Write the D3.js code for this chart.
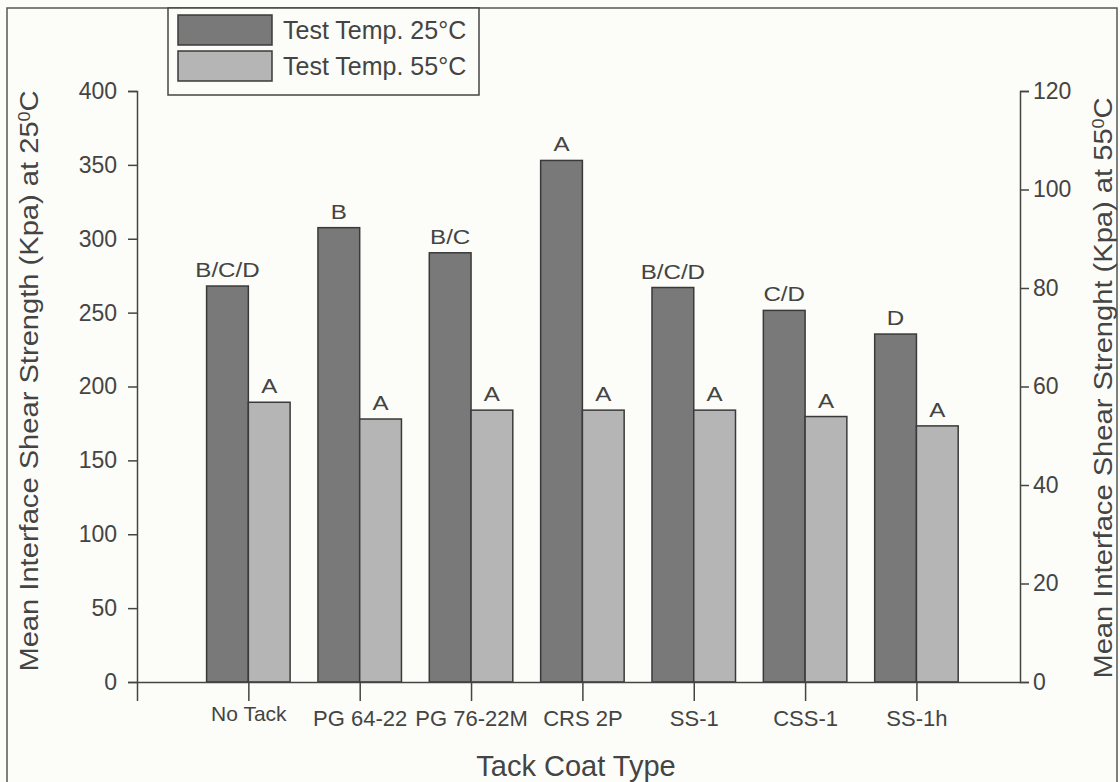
<!DOCTYPE html>
<html>
<head>
<meta charset="utf-8">
<script src="https://cdn.jsdelivr.net/npm/d3@7"></script>
<style>
  body { margin: 0; background: #fcfcf8; }
  text { font-family: Arial, "Liberation Sans", sans-serif; fill: #444; }
</style>
</head>
<body>
<div id="chart"></div>
<script>
// tack coat shear strength chart
const categories = ["No Tack", "PG 64-22", "PG 76-22M", "CRS 2P", "SS-1", "CSS-1", "SS-1h"];
const shear25 = [268, 307.5, 290.5, 353, 267, 251.5, 235.5];
const shear55 = [56.8, 53.4, 55.2, 55.2, 55.2, 53.9, 52.0];
const groups25 = ["B/C/D", "B", "B/C", "A", "B/C/D", "C/D", "D"];
const groups55 = ["A", "A", "A", "A", "A", "A", "A"];
const leftTicks = [0, 50, 100, 150, 200, 250, 300, 350, 400];
const rightTicks = [0, 20, 40, 60, 80, 100, 120];
const seriesNames = ["Test Temp. 25°C", "Test Temp. 55°C"];

const W = 1120, H = 782;
const plot = { left: 137, right: 1020, top: 91, bottom: 682 };
const dark = "#797979", light = "#b5b5b5", ink = "#444";

const svg = d3.select("#chart").append("svg")
  .attr("width", W)
  .attr("height", H);

// frame around the figure
svg.append("rect")
  .attr("x", 7).attr("y", 8)
  .attr("width", 1110).attr("height", 790)
  .attr("fill", "none")
  .attr("stroke", "#555")
  .attr("stroke-width", 1.5);

const x = d3.scaleLinear().domain([0, 7.93]).range([plot.left, plot.right]);
const yL = d3.scaleLinear().domain([0, 400]).range([plot.bottom, plot.top]);
const yR = d3.scaleLinear().domain([0, 120]).range([plot.bottom, plot.top]);
const bw = x(0.375) - x(0);

const rows = categories.map((c, i) => ({
  cat: c, pos: i + 1,
  v25: shear25[i], v55: shear55[i],
  g25: groups25[i], g55: groups55[i]
}));

// bars, 25C on left axis
svg.selectAll(".b25")
  .data(rows)
  .enter().append("rect")
  .attr("class", "b25")
  .attr("x", d => x(d.pos) - bw)
  .attr("y", d => yL(d.v25))
  .attr("width", bw)
  .attr("height", d => yL(0) - yL(d.v25))
  .attr("fill", dark)
  .attr("stroke", "#3a3a3a")
  .attr("stroke-width", 1.5);

// bars, 55C on right axis
svg.selectAll(".b55")
  .data(rows)
  .enter().append("rect")
  .attr("class", "b55")
  .attr("x", d => x(d.pos))
  .attr("y", d => yR(d.v55))
  .attr("width", bw)
  .attr("height", d => yR(0) - yR(d.v55))
  .attr("fill", light)
  .attr("stroke", "#3a3a3a")
  .attr("stroke-width", 1.5);

// group letters (scan is a bit wide, so stretch them)
svg.selectAll(".l25")
  .data(rows)
  .enter().append("text")
  .attr("transform", d => `translate(${x(d.pos) - bw / 2},${yL(d.v25) - 9}) scale(1.15,1)`)
  .attr("text-anchor", "middle")
  .style("font-size", "21px")
  .text(d => d.g25);

svg.selectAll(".l55")
  .data(rows)
  .enter().append("text")
  .attr("transform", d => `translate(${x(d.pos) + bw / 2},${yR(d.v55) - 9}) scale(1.15,1)`)
  .attr("text-anchor", "middle")
  .style("font-size", "21px")
  .text(d => d.g55);

// axes
const xAxis = svg.append("g")
  .attr("transform", `translate(0,${plot.bottom})`)
  .call(d3.axisBottom(x)
    .tickValues([0, 1, 2, 3, 4, 5, 6, 7])
    .tickFormat(d => d === 0 ? "" : categories[d - 1])
    .tickSize(19)
    .tickSizeOuter(0)
    .tickPadding(9));

const leftAxis = svg.append("g")
  .attr("transform", `translate(${plot.left},0)`)
  .call(d3.axisLeft(yL).tickValues(leftTicks).tickSize(9).tickPadding(11));

const rightAxis = svg.append("g")
  .attr("transform", `translate(${plot.right},0)`)
  .call(d3.axisRight(yR).tickValues(rightTicks).tickSize(9).tickPadding(4));

[xAxis, leftAxis, rightAxis].forEach(g => {
  g.selectAll("path, line").attr("stroke", ink).attr("stroke-width", 1.5);
  g.selectAll("text").attr("fill", ink).style("font-family", "Arial, 'Liberation Sans', sans-serif");
});
xAxis.selectAll("text").style("font-size", "22px");
xAxis.selectAll("text").filter(d => d === 1).style("font-size", "21px").attr("y", 24);
leftAxis.selectAll("text").style("font-size", "23px");
rightAxis.selectAll("text").style("font-size", "23px");

// axis titles
const tl = svg.append("text")
  .attr("transform", "translate(38,381) rotate(-90) scale(1.12,1)")
  .attr("text-anchor", "middle")
  .style("font-size", "26px");
tl.append("tspan").text("Mean Interface Shear Strength (Kpa) at 25");
tl.append("tspan").attr("baseline-shift", "super").style("font-size", "16px").text("0");
tl.append("tspan").text("C");

const tr = svg.append("text")
  .attr("transform", "translate(1112,388) rotate(-90) scale(1.12,1)")
  .attr("text-anchor", "middle")
  .style("font-size", "26px");
tr.append("tspan").text("Mean Interface Shear Strenght (Kpa) at 55");
tr.append("tspan").attr("baseline-shift", "super").style("font-size", "16px").text("0");
tr.append("tspan").text("C");

svg.append("text")
  .attr("x", 576)
  .attr("y", 776)
  .attr("text-anchor", "middle")
  .style("font-size", "29px")
  .text("Tack Coat Type");

// legend
const legend = svg.append("g");
legend.append("rect")
  .attr("x", 168).attr("y", 8)
  .attr("width", 311).attr("height", 87)
  .attr("fill", "#fcfcf8")
  .attr("stroke", ink)
  .attr("stroke-width", 1.5);

legend.selectAll(".sw")
  .data(seriesNames)
  .enter().append("rect")
  .attr("x", 178)
  .attr("y", (d, i) => 15 + i * 36)
  .attr("width", 94)
  .attr("height", 30)
  .attr("fill", (d, i) => i === 0 ? dark : light)
  .attr("stroke", "#3a3a3a")
  .attr("stroke-width", 1.5);

legend.selectAll(".lt")
  .data(seriesNames)
  .enter().append("text")
  .attr("x", 283)
  .attr("y", (d, i) => 39 + i * 36)
  .style("font-size", "25px")
  .text(d => d);
</script>
</body>
</html>
